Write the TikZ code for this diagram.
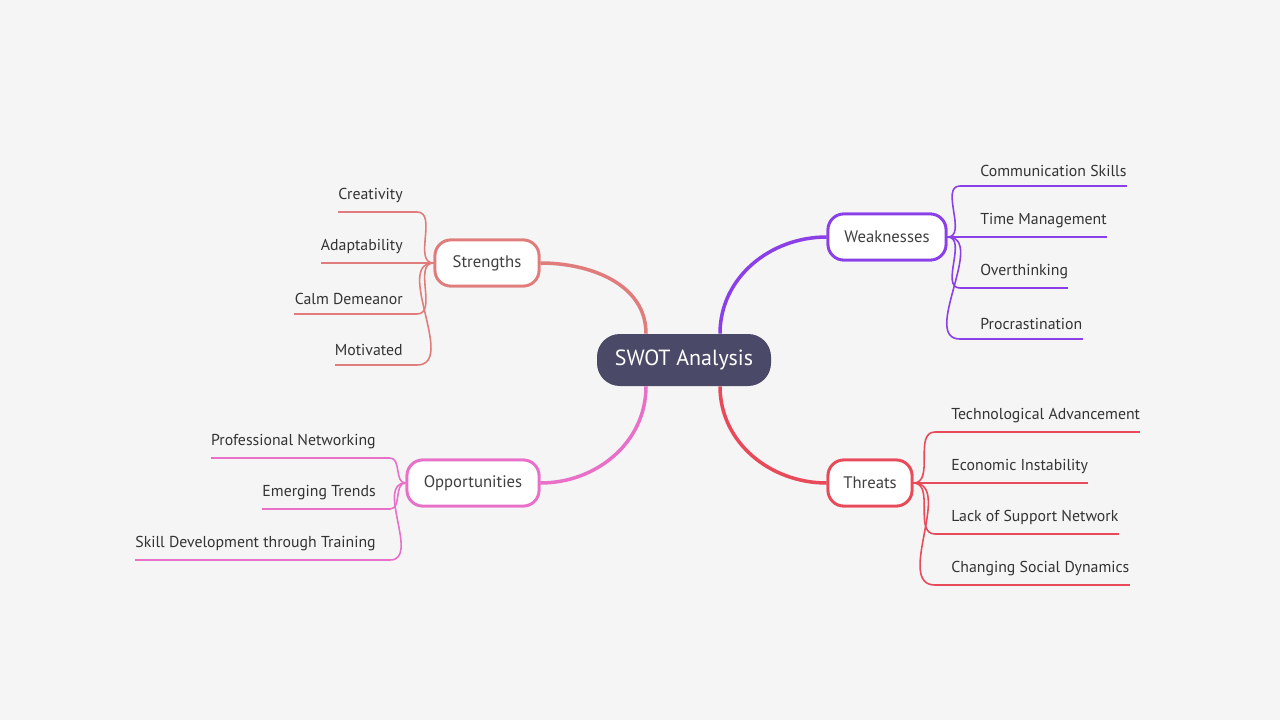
\documentclass[tikz,border=0pt]{standalone}
\usepackage{fontspec}
\setmainfont{PT Sans}
\definecolor{bgcol}{HTML}{F5F5F5}
\definecolor{centcol}{HTML}{4A4A68}
\definecolor{strcol}{HTML}{E07C7C}
\definecolor{weakcol}{HTML}{8A3FE8}
\definecolor{oppcol}{HTML}{E870C8}
\definecolor{thrcol}{HTML}{E84A5A}
\tikzset{
  topic/.style={draw=#1, line width=1.6pt, fill=white, rounded corners=9pt,
    minimum height=46*0.02cm, font=\fontsize{9.5}{11}\selectfont, text=black!75},
  leaf/.style={inner xsep=0pt, inner ysep=5pt, font=\fontsize{9}{11}\selectfont, text=black!80},
  branch/.style={draw=#1, line width=2pt},
  twig/.style={draw=#1, line width=0.9pt}
}
\begin{document}
\begin{tikzpicture}[x=0.02cm,y=-0.02cm]
  \fill[bgcol] (0,0) rectangle (1280,720);
  \useasboundingbox (0,0) rectangle (1280,720);

  % centre
  \node[fill=centcol, rounded corners=13pt, minimum width=174*0.02cm, minimum height=52*0.02cm,
        text=white, font=\fontsize{12.5}{14}\selectfont] (swot) at (684,360) {SWOT Analysis};

  % main topics
  \node[topic=strcol, minimum width=104*0.02cm] (str) at (487,263) {Strengths};
  \node[topic=weakcol, minimum width=118*0.02cm] (weak) at (887,237) {Weaknesses};
  \node[topic=oppcol, minimum width=132*0.02cm] (opp) at (473,483) {Opportunities};
  \node[topic=thrcol, minimum width=84*0.02cm] (thr) at (870,483) {Threats};

  \begin{scope}[on background layer/.style={}]
  \draw[branch=strcol] ([xshift=-38*0.02cm]swot.north) to[out=90,in=0] (str.east);
  \draw[branch=weakcol] ([xshift=36*0.02cm]swot.north) to[out=90,in=180] (weak.west);
  \draw[branch=oppcol] ([xshift=-38*0.02cm]swot.south) to[out=-90,in=0] (opp.east);
  \draw[branch=thrcol] ([xshift=36*0.02cm]swot.south) to[out=-90,in=180] (thr.west);
  \end{scope}

  % Strengths leaves
  \foreach \t/\y/\n in {Creativity/212/s1, Adaptability/263/s2, Calm Demeanor/314/s3, Motivated/365/s4}{
    \node[leaf, anchor=south east] (\n) at (403,\y) {\t};
    \coordinate (\n e) at (417,\y);
    \draw[twig=strcol] (\n.south west) -- (\n e);
    \draw[twig=strcol] (str.west) to[out=180,in=0] (\n e);
  }
  % Weaknesses leaves
  \foreach \t/\y/\n in {Communication Skills/186/w1, Time Management/237/w2, Overthinking/288/w3, Procrastination/339/w4}{
    \node[leaf, anchor=south west] (\n) at (980,\y) {\t};
    \coordinate (\n e) at (960,\y);
    \draw[twig=weakcol] (\n e) -- (\n.south east);
    \draw[twig=weakcol] (weak.east) to[out=0,in=180] (\n e);
  }
  % Opportunities leaves
  \foreach \t/\y/\n in {Professional Networking/458/o1, Emerging Trends/509/o2, Skill Development through Training/560/o3}{
    \node[leaf, anchor=south east] (\n) at (376,\y) {\t};
    \coordinate (\n e) at (390,\y);
    \draw[twig=oppcol] (\n.south west) -- (\n e);
    \draw[twig=oppcol] (opp.west) to[out=180,in=0] (\n e);
  }
  % Threats leaves
  \foreach \t/\y/\n in {Technological Advancement/432/t1, Economic Instability/483/t2, Lack of Support Network/534/t3, Changing Social Dynamics/585/t4}{
    \node[leaf, anchor=south west] (\n) at (951,\y) {\t};
    \coordinate (\n e) at (935,\y);
    \draw[twig=thrcol] (\n e) -- (\n.south east);
    \draw[twig=thrcol] (thr.east) to[out=0,in=180] (\n e);
  }
  % redraw boxes over lines
  \node[topic=strcol, minimum width=104*0.02cm] at (str) {Strengths};
  \node[topic=weakcol, minimum width=118*0.02cm] at (weak) {Weaknesses};
  \node[topic=oppcol, minimum width=132*0.02cm] at (opp) {Opportunities};
  \node[topic=thrcol, minimum width=84*0.02cm] at (thr) {Threats};
\end{tikzpicture}
\end{document}
